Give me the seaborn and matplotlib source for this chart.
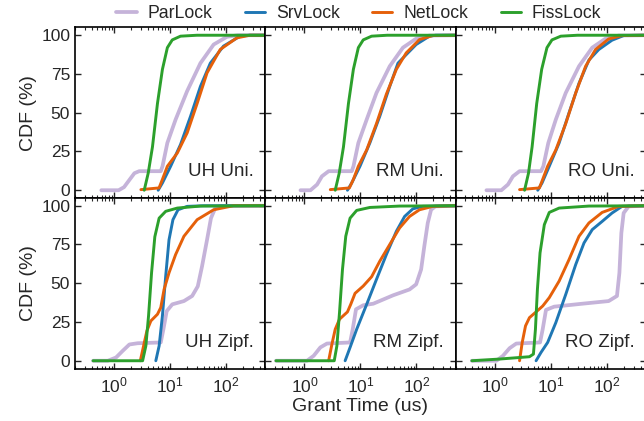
import numpy as np
import pandas as pd
import matplotlib
matplotlib.use("Agg")
from matplotlib import pyplot as plt
import seaborn as sns

locks = ['ParLock', 'SrvLock', 'NetLock', 'FissLock']
panels = ['UH Uni.', 'RM Uni.', 'RO Uni.', 'UH Zipf.', 'RM Zipf.', 'RO Zipf.']

# grant time (us) / CDF (%), one pair per curve
# --- UH Uni.
uh_uni_par_t = [0.59, 1.2, 1.5, 1.9, 2.3, 2.8, 6.8, 7.3, 8.9, 12.5, 20.1, 34.7, 59.7, 103, 160, 500]
uh_uni_par_y = [0, 0, 2, 7, 11, 12.3, 12.3, 15.5, 30.5, 45.6, 64, 82, 94, 99, 100, 100]
uh_uni_srv_t = [6.1, 7.27, 10.2, 15.3, 23.1, 34.7, 52.1, 89.7, 177, 260, 500]
uh_uni_srv_y = [0, 4.7, 15.5, 29.5, 47.7, 67, 82, 93, 99.4, 100, 100]
uh_uni_net_t = [3.0, 6.33, 7.27, 8.91, 13.4, 20.1, 30.3, 45.5, 78.3, 155, 265, 500]
uh_uni_net_y = [0.4, 1.5, 7, 15.5, 24, 37, 56, 75.7, 90.8, 98.3, 100, 100]
uh_uni_fis_t = [3.44, 4.05, 4.83, 5.93, 7.27, 8.91, 10.9, 15.3, 30, 500]
uh_uni_fis_y = [0, 11, 28, 56, 78, 92, 97, 99.4, 100, 100]
# --- RM Uni.
rm_uni_par_t = [0.85, 1.28, 1.68, 2.05, 2.7, 6.98, 7.5, 9.16, 12.9, 19.3, 33.3, 57.3, 98.6, 170, 500]
rm_uni_par_y = [0, 0, 3.7, 9, 12.3, 12.3, 15.5, 30.5, 45.6, 62.8, 80, 92, 97.8, 99.8, 100]
rm_uni_srv_t = [5.85, 6.98, 9.8, 14.7, 22.1, 33.3, 46.7, 65.6, 98.6, 170, 220, 500]
rm_uni_srv_y = [0, 4.7, 15.5, 30.5, 47.7, 67, 82, 87.5, 94, 99.4, 100, 100]
rm_uni_net_t = [2.89, 6.34, 7.47, 9.16, 12.9, 19.3, 29, 43.7, 65.6, 113, 195, 500]
rm_uni_net_y = [0.4, 1.5, 7, 15.5, 26, 43, 62, 78, 88.6, 97.2, 99.8, 100]
rm_uni_fis_t = [3.54, 4.17, 4.97, 6.1, 7.47, 9.16, 11.2, 15.8, 30, 500]
rm_uni_fis_y = [0, 11, 28, 56, 78, 92, 97, 99.4, 100, 100]
# --- RO Uni.
ro_uni_par_t = [0.71, 1.31, 1.72, 2.11, 2.77, 6.7, 7.37, 9.03, 12.3, 18.5, 31.9, 55, 94.7, 163, 500]
ro_uni_par_y = [0, 0, 3.7, 9, 12.3, 12.3, 15.5, 30.5, 45.6, 62.8, 80, 92, 97.8, 99.8, 100]
ro_uni_srv_t = [5.85, 6.98, 9.4, 14.1, 21.2, 31.9, 48, 72, 124, 200, 500]
ro_uni_srv_y = [0, 4.7, 15.5, 30.5, 50, 69, 84, 90.8, 96.8, 99.8, 100]
ro_uni_net_t = [2.77, 6.26, 7.17, 8.79, 12.3, 18.5, 27.9, 41.9, 63, 108, 187, 500]
ro_uni_net_y = [0.4, 1.5, 7, 15.5, 26, 43, 62.8, 80, 90.8, 97.6, 99.8, 100]
ro_uni_fis_t = [3.4, 4.0, 4.64, 5.61, 6.88, 8.55, 10.5, 15.1, 30, 500]
ro_uni_fis_y = [0, 11, 28, 56, 78, 92, 97, 99.4, 100, 100]
# --- UH Zipf.
uh_zipf_par_t = [0.42, 0.77, 1.08, 1.42, 1.87, 2.62, 6.79, 7.57, 8.67, 10.9, 17.6, 24.7, 31.1, 37.1, 45.5, 53.5, 63.8, 78.3, 500]
uh_zipf_par_y = [0, 0, 2.1, 6.4, 10.5, 11.3, 11.8, 20.3, 32, 36.4, 38.5, 41.8, 48, 61, 78, 92, 98.5, 99.8, 100]
uh_zipf_srv_t = [5.54, 6.35, 7.27, 8.32, 9.53, 11.2, 13.8, 20.1, 40, 500]
uh_zipf_srv_y = [0, 9.6, 29, 54.6, 78, 91, 97.4, 99.6, 100, 100]
uh_zipf_net_t = [2.93, 3.35, 3.84, 4.52, 5.93, 6.79, 7.78, 9.53, 12.5, 17.6, 30.3, 59.7, 135, 500]
uh_zipf_net_y = [0, 9.6, 19.3, 25.7, 30, 34.3, 46, 56.7, 68.5, 80.3, 91, 97.4, 100, 100]
uh_zipf_fis_t = [0.42, 3.22, 3.68, 4.11, 4.65, 5.32, 6.35, 8.32, 13.4, 34.7, 500]
uh_zipf_fis_y = [0, 0, 9.6, 29, 56.7, 80, 92, 96.4, 98.5, 99.8, 100]
# --- RM Zipf.
rm_zipf_par_t = [0.31, 1.11, 1.46, 1.92, 2.52, 6.52, 7.27, 8.32, 11.2, 16.9, 38.1, 75.2, 98.6, 121, 138, 159, 182, 217, 500]
rm_zipf_par_y = [0, 0, 3.2, 8.6, 11.1, 11.8, 20.3, 33.2, 35.8, 36.8, 42.2, 46, 49.3, 58.9, 73.9, 88.9, 97.4, 99.6, 100]
rm_zipf_srv_t = [5.32, 6.52, 8.55, 12.9, 19.3, 29, 43.7, 61.4, 86.1, 129, 500]
rm_zipf_srv_y = [0, 8.6, 20.3, 36.4, 52.5, 68.5, 83.5, 93.1, 98, 99.6, 100]
rm_zipf_net_t = [2.7, 3.09, 3.54, 4.22, 5.85, 6.7, 8.0, 11.2, 15.8, 22.1, 33.3, 50, 75.2, 113, 195, 500]
rm_zipf_net_y = [0, 10.7, 20.3, 26.8, 31.5, 36.4, 43.5, 48.2, 54.2, 64.2, 75, 85.7, 93.1, 97.4, 99.6, 100]
rm_zipf_fis_t = [0.31, 3.4, 3.79, 4.22, 4.77, 5.46, 6.52, 8.55, 14.7, 50, 500]
rm_zipf_fis_y = [0, 0, 9.6, 31, 58.9, 80.3, 92, 97, 98.9, 99.8, 100]
# --- RO Zipf.
ro_zipf_par_t = [0.39, 1.07, 1.4, 1.84, 2.42, 6.43, 7.17, 8.21, 11.5, 36.6, 108, 152, 168, 182, 200, 245, 500]
ro_zipf_par_y = [0, 0, 3.2, 8.1, 11.1, 11.8, 20.3, 32.8, 34.9, 36.8, 38.5, 41.8, 56.7, 82.4, 95.3, 99.6, 100]
ro_zipf_srv_t = [5.46, 6.7, 8.79, 12.3, 18.5, 27.9, 39.2, 55, 82.7, 124, 187, 500]
ro_zipf_srv_y = [0, 5.4, 11.8, 24.6, 42.8, 62.1, 76, 84.6, 89.9, 95.3, 99.6, 100]
ro_zipf_net_t = [2.77, 3.09, 3.54, 4.16, 5.46, 7.17, 9.4, 14.1, 21.2, 31.9, 48, 82.7, 163, 500]
ro_zipf_net_y = [0, 11.8, 22.5, 27.8, 31.5, 35.3, 40.7, 51.4, 65.3, 80.3, 88.9, 95.7, 99.6, 100]
ro_zipf_fis_t = [0.39, 1.22, 4.16, 4.9, 5.32, 5.77, 6.43, 7.67, 9.4, 14.1, 48, 500]
ro_zipf_fis_y = [0, 1.1, 2.6, 4.3, 20.3, 46, 69.6, 87.8, 95.7, 98.5, 99.8, 100]

curves = {
    'UH Uni.': [(uh_uni_par_t, uh_uni_par_y), (uh_uni_srv_t, uh_uni_srv_y), (uh_uni_net_t, uh_uni_net_y), (uh_uni_fis_t, uh_uni_fis_y)],
    'RM Uni.': [(rm_uni_par_t, rm_uni_par_y), (rm_uni_srv_t, rm_uni_srv_y), (rm_uni_net_t, rm_uni_net_y), (rm_uni_fis_t, rm_uni_fis_y)],
    'RO Uni.': [(ro_uni_par_t, ro_uni_par_y), (ro_uni_srv_t, ro_uni_srv_y), (ro_uni_net_t, ro_uni_net_y), (ro_uni_fis_t, ro_uni_fis_y)],
    'UH Zipf.': [(uh_zipf_par_t, uh_zipf_par_y), (uh_zipf_srv_t, uh_zipf_srv_y), (uh_zipf_net_t, uh_zipf_net_y), (uh_zipf_fis_t, uh_zipf_fis_y)],
    'RM Zipf.': [(rm_zipf_par_t, rm_zipf_par_y), (rm_zipf_srv_t, rm_zipf_srv_y), (rm_zipf_net_t, rm_zipf_net_y), (rm_zipf_fis_t, rm_zipf_fis_y)],
    'RO Zipf.': [(ro_zipf_par_t, ro_zipf_par_y), (ro_zipf_srv_t, ro_zipf_srv_y), (ro_zipf_net_t, ro_zipf_net_y), (ro_zipf_fis_t, ro_zipf_fis_y)],
}

palette = {'ParLock': '#c5b3d9', 'SrvLock': '#1f77b4', 'NetLock': '#e5600a', 'FissLock': '#2ca02c'}
widths = {'ParLock': 2.7, 'SrvLock': 2.1, 'NetLock': 2.1, 'FissLock': 2.1}

sns.set_style("ticks")
plt.rcParams['font.family'] = ['Liberation Sans', 'DejaVu Sans']
plt.rcParams['mathtext.default'] = 'regular'
plt.rcParams['xtick.direction'] = 'in'
plt.rcParams['ytick.direction'] = 'in'
plt.rcParams['xtick.top'] = True
plt.rcParams['ytick.right'] = True

fig, axes = plt.subplots(2, 3, figsize=(6.44, 4.21), dpi=100, sharex=True, sharey=True)
fig.subplots_adjust(left=0.1165, right=1.003, top=0.9347, bottom=0.1247, wspace=0, hspace=0)

for ax, name in zip(axes.flat, panels):
    ax.set_xscale('log')
    rows = []
    for lock, (t, y) in zip(locks, curves[name]):
        rows.append(pd.DataFrame({'t': t, 'cdf': y, 'lock': lock}))
    df = pd.concat(rows, ignore_index=True)
    sns.lineplot(data=df, x='t', y='cdf', hue='lock', size='lock', hue_order=locks,
                 size_order=locks, palette=palette, sizes=widths, sort=False,
                 estimator=None, legend=(name == panels[0]), ax=ax)
    ax.text(0.94, 0.155, name, transform=ax.transAxes, ha='right', va='center', fontsize=13.5)
    ax.set_xlim(0.2, 500)
    ax.set_ylim(-5, 105)
    ax.set_yticks([0, 25, 50, 75, 100])
    ax.set_xlabel('')
    ax.set_ylabel('')
    ax.tick_params(which='major', length=4.5, width=1, labelsize=12.5)
    ax.tick_params(axis='x', which='major', pad=5)
    ax.tick_params(which='minor', length=2.5, width=0.8)
    for s in ax.spines.values():
        s.set_linewidth(1.2)
        s.set_color('black')

handles, labels = axes[0, 0].get_legend_handles_labels()
axes[0, 0].get_legend().remove()
fig.legend(handles, labels, loc='center', bbox_to_anchor=(0.557, 0.968), ncol=4, frameon=False,
           fontsize=12.7, handlelength=1.15, handletextpad=0.6, columnspacing=1.85)

axes[0, 0].set_ylabel('CDF (%)', fontsize=14, labelpad=3)
axes[1, 0].set_ylabel('CDF (%)', fontsize=14, labelpad=3)
axes[1, 1].set_xlabel('Grant Time (us)', fontsize=14, labelpad=2)

fig.savefig('out.png', dpi=100)
